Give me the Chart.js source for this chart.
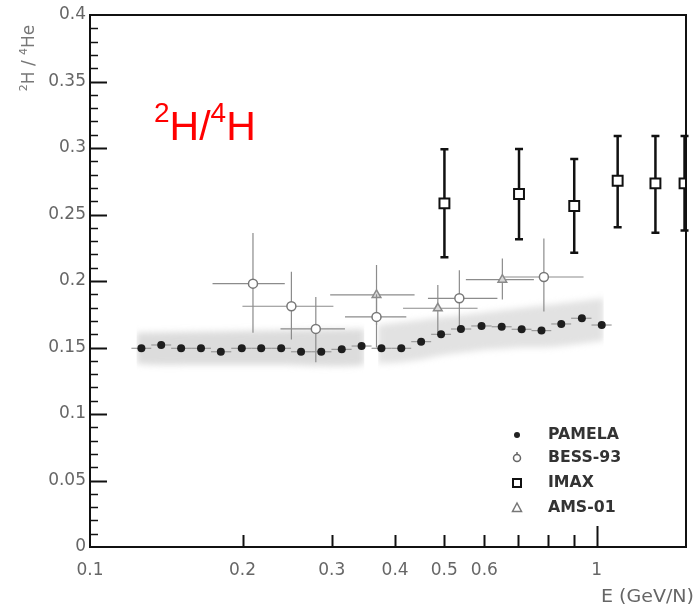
<!DOCTYPE html>
<html><head><meta charset="utf-8">
<script src="https://cdn.jsdelivr.net/npm/chart.js@4.4.0/dist/chart.umd.min.js"></script>
<style>html,body{margin:0;padding:0;background:#fff}</style>
</head><body>
<canvas id="c" width="695" height="606"></canvas>
<script>
// ---------- data ----------
const pamelaE = [0.1263,0.1382,0.1513,0.1656,0.1812,0.1993,0.2177,0.2384,0.2609,0.2860,0.3139,0.3435,
                 0.3759,0.4114,0.4502,0.4929,0.5395,0.5924,0.6492,0.7109,0.7779,0.8511,0.9346,1.0228];
const pamelaRatio = [0.1494,0.1519,0.1494,0.1494,0.1468,0.1494,0.1494,0.1494,0.1468,0.1468,0.1486,0.1511,
                     0.1494,0.1494,0.1544,0.1599,0.1639,0.1662,0.1656,0.1637,0.1627,0.1677,0.1720,0.1669];
const pamelaBinEdges = [0.1207,0.1321,0.1446,0.1583,0.1733,0.1900,0.2083,0.2278,0.2493,0.2731,0.2995,0.3283,
                        0.3594,0.3933,0.4304,0.4712,0.5158,0.5654,0.6201,0.6792,0.7433,0.8133,0.8901,0.9763,1.0700];

const band1E  = [0.1236,0.1320,0.1656,0.1993,0.2384,0.2860,0.3283,0.3477];
const band1Hi = [0.161,0.163,0.163,0.162,0.162,0.163,0.164,0.164];
const band1Lo = [0.138,0.137,0.137,0.137,0.137,0.136,0.136,0.137];

const band2E  = [0.3703,0.4114,0.4502,0.4929,0.5395,0.5924,0.6492,0.7109,0.7779,0.8511,0.9346,1.0319];
const band2Hi = [0.167,0.170,0.172,0.175,0.178,0.180,0.181,0.182,0.183,0.185,0.188,0.187];
const band2Lo = [0.138,0.139,0.141,0.144,0.146,0.148,0.149,0.150,0.150,0.151,0.153,0.155];

const bessE     = [0.2097,0.2497,0.2790,0.3676,0.5356,0.7864];
const bessRatio = [0.198,0.181,0.164,0.173,0.187,0.203];
const bessElo   = [0.1745,0.1999,0.2376,0.3186,0.4644,0.6563];
const bessEhi   = [0.2423,0.3022,0.3185,0.4209,0.6367,0.9417];
const bessLo    = [0.161,0.156,0.139,0.150,0.166,0.177];
const bessHi    = [0.236,0.207,0.188,0.190,0.208,0.232];

const amsE     = [0.3676,0.4857,0.6512];
const amsRatio = [0.1895,0.1795,0.201];
const amsElo   = [0.2978,0.4147,0.5517];
const amsEhi   = [0.4370,0.5818,0.7515];
const amsLo    = [0.167,0.161,0.186];
const amsHi    = [0.212,0.197,0.217];

const imaxE     = [0.5005,0.7024,0.9027,1.0996,1.3055,1.49];
const imaxRatio = [0.2584,0.2654,0.2564,0.2754,0.2734,0.2734];
const imaxLo    = [0.2178,0.2314,0.2213,0.2404,0.2363,0.2380];
const imaxHi    = [0.2990,0.2992,0.2917,0.3090,0.3090,0.3090];

const xTickValues = [0.1,0.2,0.3,0.4,0.5,0.6,1];
const xTickLabels = ['0.1','0.2','0.3','0.4','0.5','0.6','1'];
const xMinorTicks = [0.2,0.3,0.4,0.5,0.6,0.7,0.8,0.9];
const xMajorTicks = [1];
const yTickValues = [0,0.05,0.1,0.15,0.2,0.25,0.3,0.35,0.4];
const yTickLabels = ['0','0.05','0.1','0.15','0.2','0.25','0.3','0.35','0.4'];
const yMinorStep = 0.01;

const seriesNames = ['PAMELA','BESS-93','IMAX','AMS-01'];

// ---------- helpers ----------
const pts = (xs, ys) => xs.map((x, i) => ({x, y: ys[i]}));
const TXT = '#666';
const FONT = '"DejaVu Sans", sans-serif';

const pamelaLo = pamelaBinEdges.slice(0, -1);
const pamelaHi = pamelaBinEdges.slice(1);

const datasets = [
  { label: seriesNames[0], type: 'scatter', data: pts(pamelaE, pamelaRatio),
    pointStyle: 'circle', pointRadius: 4, pointBackgroundColor: '#1e1e1e', pointBorderWidth: 0,
    errorBars: {xlo: pamelaLo, xhi: pamelaHi, color: '#9a9a9a', width: 1.2, cap: 0} },
  { label: seriesNames[2], type: 'scatter', data: pts(imaxE, imaxRatio),
    pointStyle: 'rect', pointRadius: 7, pointBackgroundColor: '#fff', pointBorderColor: '#111', pointBorderWidth: 2,
    errorBars: {ylo: imaxLo, yhi: imaxHi, color: '#111', width: 2.5, cap: 8} },
  { label: seriesNames[1], type: 'scatter', data: pts(bessE, bessRatio),
    pointStyle: 'circle', pointRadius: 4.5, pointBackgroundColor: '#fff', pointBorderColor: '#777', pointBorderWidth: 1.5,
    errorBars: {xlo: bessElo, xhi: bessEhi, ylo: bessLo, yhi: bessHi, color: '#8c8c8c', width: 1.2, cap: 0} },
  { label: seriesNames[3], type: 'scatter', data: pts(amsE, amsRatio),
    pointStyle: 'triangle', pointRadius: 5, pointBackgroundColor: '#d8d8d8', pointBorderColor: '#8a8a8a', pointBorderWidth: 1.5,
    errorBars: {xlo: amsElo, xhi: amsEhi, ylo: amsLo, yhi: amsHi, color: '#8c8c8c', width: 1.2, cap: 0} },
  { label: 'band1hi', type: 'line', data: pts(band1E, band1Hi), borderWidth: 0, pointRadius: 0, tension: 0.4, fill: false },
  { label: 'band1lo', type: 'line', data: pts(band1E, band1Lo), borderWidth: 0, pointRadius: 0, tension: 0.4,
    fill: '-1', backgroundColor: 'rgba(185,185,185,0.5)' },
  { label: 'band2hi', type: 'line', data: pts(band2E, band2Hi), borderWidth: 0, pointRadius: 0, tension: 0.4, fill: false },
  { label: 'band2lo', type: 'line', data: pts(band2E, band2Lo), borderWidth: 0, pointRadius: 0, tension: 0.4,
    fill: '-1', backgroundColor: 'rgba(185,185,185,0.42)' }
];

// ---------- plugin: blur band, error bars, frame, ticks, texts, legend ----------
function stretchedText(ctx, str, x, y, sx, align) {
  ctx.save();
  const w = ctx.measureText(str).width * sx;
  const x0 = align === 'right' ? x - w : (align === 'center' ? x - w / 2 : x);
  ctx.translate(x0, y); ctx.scale(sx, 1);
  ctx.textAlign = 'left';
  ctx.fillText(str, 0, 0);
  ctx.restore();
}

const decor = {
  id: 'decor',
  beforeRender(chart) { chart.ctx.filter = 'blur(3px)'; },
  beforeDraw(chart) { chart.ctx.filter = 'none'; },
  beforeDatasetDraw(chart, args) {
    const ds = chart.data.datasets[args.index];
    const eb = ds.errorBars; if (!eb) return;
    const ctx = chart.ctx, xs = chart.scales.x, ys = chart.scales.y;
    ctx.save();
    ctx.strokeStyle = eb.color; ctx.lineWidth = eb.width;
    ds.data.forEach((p, i) => {
      const px = xs.getPixelForValue(p.x), py = ys.getPixelForValue(p.y);
      ctx.beginPath();
      if (eb.xlo) {
        ctx.moveTo(xs.getPixelForValue(eb.xlo[i]), py);
        ctx.lineTo(xs.getPixelForValue(eb.xhi[i]), py);
      }
      if (eb.ylo) {
        const y1 = ys.getPixelForValue(eb.ylo[i]), y2 = ys.getPixelForValue(eb.yhi[i]);
        ctx.moveTo(px, y1); ctx.lineTo(px, y2);
        if (eb.cap) {
          ctx.moveTo(px - eb.cap / 2, y1); ctx.lineTo(px + eb.cap / 2, y1);
          ctx.moveTo(px - eb.cap / 2, y2); ctx.lineTo(px + eb.cap / 2, y2);
        }
      }
      ctx.stroke();
    });
    ctx.restore();
  },
  afterDraw(chart) {
    const ctx = chart.ctx, a = chart.chartArea, xs = chart.scales.x, ys = chart.scales.y;
    ctx.save();
    // frame
    ctx.strokeStyle = '#111'; ctx.lineWidth = 2;
    ctx.strokeRect(a.left, a.top, a.right - a.left, a.bottom - a.top);
    // y ticks (inside)
    for (let k = 1; k < 40; k++) {
      const v = k * yMinorStep, py = Math.round(ys.getPixelForValue(v)) + 0.5;
      const major = k % 5 === 0;
      ctx.lineWidth = major ? 2 : 1.5;
      ctx.beginPath(); ctx.moveTo(a.left, py); ctx.lineTo(a.left + (major ? 17 : 8), py); ctx.stroke();
    }
    // x ticks (inside)
    xMinorTicks.forEach(v => {
      const px = Math.round(xs.getPixelForValue(v)) + 0.5;
      ctx.lineWidth = 2;
      ctx.beginPath(); ctx.moveTo(px, a.bottom); ctx.lineTo(px, a.bottom - 12); ctx.stroke();
    });
    xMajorTicks.forEach(v => {
      const px = Math.round(xs.getPixelForValue(v)) + 0.5;
      ctx.lineWidth = 2;
      ctx.beginPath(); ctx.moveTo(px, a.bottom); ctx.lineTo(px, a.bottom - 21); ctx.stroke();
    });
    // x axis title
    ctx.fillStyle = TXT; ctx.font = '17px ' + FONT; ctx.textBaseline = 'middle';
    stretchedText(ctx, 'E (GeV/N)', 694, 598, 1.12, 'right');
    // y axis title, rotated, with superscripts
    ctx.save();
    ctx.translate(28, 58); ctx.rotate(-Math.PI / 2);
    const parts = [['2', 11, -7], ['H / ', 17, 0], ['4', 11, -7], ['He', 17, 0]];
    let w = 0;
    parts.forEach(p => { ctx.font = p[1] + 'px ' + FONT; w += ctx.measureText(p[0]).width; });
    let x = -w / 2;
    ctx.textAlign = 'left'; ctx.textBaseline = 'alphabetic'; ctx.fillStyle = '#777';
    parts.forEach(p => { ctx.font = p[1] + 'px ' + FONT; ctx.fillText(p[0], x, 6 + p[2]); x += ctx.measureText(p[0]).width; });
    ctx.restore();
    // red annotation
    ctx.fillStyle = '#ff0000'; ctx.textAlign = 'left'; ctx.textBaseline = 'alphabetic';
    const t = [['2', 28, 122], ['H/', 41, 140], ['4', 28, 122], ['H', 41, 140]];
    let tx = 154;
    t.forEach(p => { ctx.font = p[1] + 'px "Liberation Sans", sans-serif'; ctx.fillText(p[0], tx, p[2]); tx += ctx.measureText(p[0]).width; });
    // legend
    const lx = 517, tx2 = 548, rows = [435, 458, 483, 508];
    ctx.font = 'bold 15px ' + FONT; ctx.textBaseline = 'middle'; ctx.fillStyle = '#333';
    seriesNames.forEach((n, i) => stretchedText(ctx, n, tx2, rows[i], 1.05, 'left'));
    // PAMELA
    ctx.fillStyle = '#222'; ctx.beginPath(); ctx.arc(lx, rows[0], 3, 0, 2 * Math.PI); ctx.fill();
    // BESS-93
    ctx.strokeStyle = '#666'; ctx.lineWidth = 1.5; ctx.beginPath(); ctx.arc(lx, rows[1], 3.5, 0, 2 * Math.PI); ctx.stroke();
    ctx.beginPath(); ctx.moveTo(lx, rows[1] - 6); ctx.lineTo(lx, rows[1] - 3.5); ctx.stroke();
    // IMAX
    ctx.strokeStyle = '#111'; ctx.lineWidth = 2; ctx.strokeRect(lx - 4, rows[2] - 4, 8, 8);
    // AMS-01
    ctx.strokeStyle = '#777'; ctx.lineWidth = 1.5; ctx.beginPath();
    ctx.moveTo(lx, rows[3] - 5); ctx.lineTo(lx + 4.5, rows[3] + 3.5); ctx.lineTo(lx - 4.5, rows[3] + 3.5); ctx.closePath(); ctx.stroke();
    ctx.restore();
  }
};

new Chart(document.getElementById('c'), {
  data: { datasets },
  options: {
    responsive: false, animation: false, devicePixelRatio: 1,
    layout: { padding: { left: 0, right: 5, top: 15, bottom: 19 } },
    plugins: { legend: { display: false }, tooltip: { enabled: false }, filler: { drawTime: 'beforeDraw' } },
    scales: {
      x: { type: 'logarithmic', min: 0.1, max: 1.5, position: 'bottom',
        grid: { display: false, drawTicks: false }, border: { display: false },
        afterBuildTicks: s => { s.ticks = xTickValues.map(v => ({value: v})); },
        afterFit: s => { s.height = 40; },
        ticks: { autoSkip: false, maxRotation: 0, padding: 13, color: TXT, font: { family: FONT, size: 17 },
          callback: (v, i) => xTickLabels[i] } },
      y: { type: 'linear', min: 0, max: 0.4,
        grid: { display: false, drawTicks: false }, border: { display: false },
        afterBuildTicks: s => { s.ticks = yTickValues.map(v => ({value: v})); },
        afterFit: s => { s.width = 90; },
        ticks: { padding: 4, color: TXT, font: { family: FONT, size: 17 },
          callback: (v, i) => yTickLabels[i] } }
    }
  },
  plugins: [decor]
});
</script>
</body></html>
